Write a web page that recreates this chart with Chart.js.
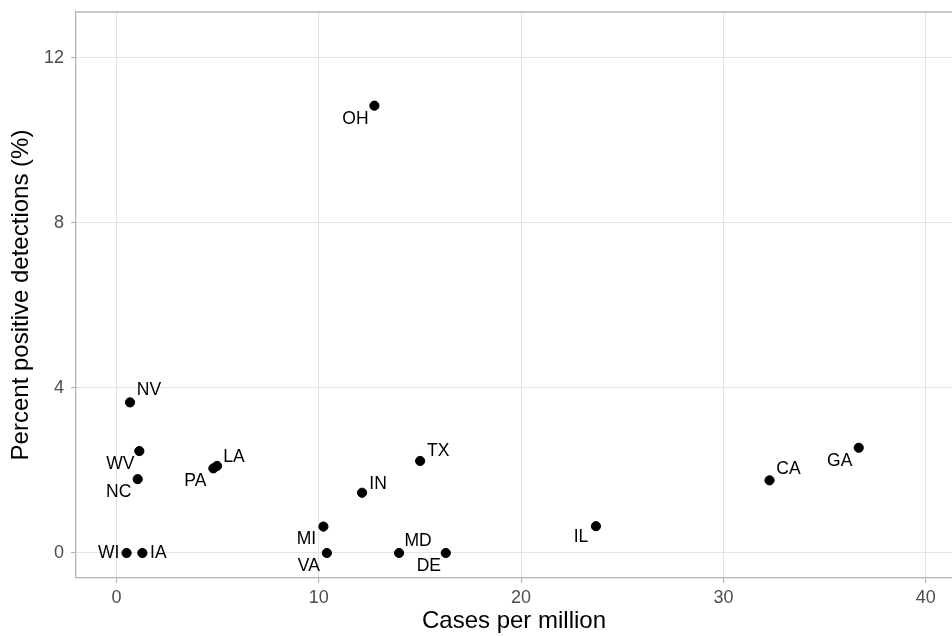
<!DOCTYPE html>
<html>
<head>
<meta charset="utf-8">
<script src="https://cdn.jsdelivr.net/npm/chart.js@4"></script>
<style>
  html, body { margin: 0; padding: 0; background: #fff; overflow: hidden; }
  canvas { display: block; }
</style>
</head>
<body>
<canvas id="chart" width="952" height="636"></canvas>
<script>
var states = ['OH', 'NV', 'WV', 'NC', 'PA', 'LA', 'WI', 'IA', 'MI', 'VA', 'MD', 'DE', 'IN', 'TX', 'IL', 'CA', 'GA'];
var casesPerMillion = [12.75, 0.67, 1.13, 1.05, 4.79, 4.97, 0.50, 1.28, 10.23, 10.40, 13.97, 16.28, 12.14, 15.01, 23.70, 32.28, 36.69];
var percentPositive = [10.84, 3.65, 2.47, 1.79, 2.05, 2.11, 0, 0, 0.64, 0, 0, 0, 1.46, 2.23, 0.65, 1.76, 2.55];
var xTicks = [0, 10, 20, 30, 40];
var yTicks = [0, 4, 8, 12];

// where each label sits relative to its dot (ggrepel-ish placement)
var labelPos = {
  OH: [-19, 13], NV: [19, -12], WV: [-19, 13], NC: [-19, 13], PA: [-18, 13],
  LA: [17, -9], WI: [-18, 0], IA: [16, 0], MI: [-17, 13], VA: [-18, 13],
  MD: [19, -12], DE: [-17, 13], IN: [16, -9], TX: [18, -10], IL: [-15, 11],
  CA: [19, -11], GA: [-19, 13]
};

var points = casesPerMillion.map(function (x, i) {
  return { x: x, y: percentPositive[i] };
});

var FONT = "'Liberation Sans', Arial, Helvetica, sans-serif";

var stateLabels = {
  id: 'stateLabels',
  afterDatasetsDraw: function (chart) {
    var ctx = chart.ctx;
    var meta = chart.getDatasetMeta(0);
    ctx.save();
    ctx.font = '17.5px ' + FONT;
    ctx.fillStyle = '#000';
    ctx.textAlign = 'center';
    ctx.textBaseline = 'middle';
    meta.data.forEach(function (pt, i) {
      var off = labelPos[states[i]] || [0, 0];
      ctx.fillText(states[i], pt.x + off[0], pt.y + off[1]);
    });
    ctx.restore();
  }
};

var panelTop = {
  id: 'panelTop',
  afterDraw: function (chart) {
    var a = chart.chartArea;
    var ctx = chart.ctx;
    ctx.save();
    ctx.strokeStyle = '#b3b3b3';
    ctx.lineWidth = 1.3;
    ctx.beginPath();
    ctx.moveTo(a.left, a.top);
    ctx.lineTo(a.right, a.top);
    ctx.stroke();
    ctx.restore();
  }
};

var config = {
  type: 'scatter',
  data: {
    datasets: [{
      data: points,
      backgroundColor: '#000',
      borderColor: '#000',
      pointRadius: 4.6,
      pointHoverRadius: 4.6
    }]
  },
  options: {
    responsive: false,
    animation: false,
    layout: { autoPadding: false, padding: { top: 12, right: 0, left: 0, bottom: 0 } },
    plugins: {
      legend: { display: false },
      tooltip: { enabled: false }
    },
    scales: {
      x: {
        type: 'linear',
        min: -2.0,
        max: 41.3,
        afterBuildTicks: function (scale) {
          scale.ticks = xTicks.map(function (v) { return { value: v }; });
        },
        afterFit: function (scale) {
          scale.height = 58;
          scale.paddingLeft = 0;
          scale.paddingRight = 0;
        },
        grid: { color: '#e3e3e3', lineWidth: 1.1, tickLength: 5, tickColor: '#b3b3b3' },
        border: { color: '#b3b3b3', width: 1.3 },
        ticks: { color: '#4d4d4d', font: { family: FONT, size: 18 }, padding: 4 },
        title: {
          display: true,
          text: 'Cases per million',
          color: '#000',
          font: { family: FONT, size: 24 },
          padding: { top: 0, bottom: 0 }
        }
      },
      y: {
        type: 'linear',
        min: -0.606,
        max: 13.11,
        afterBuildTicks: function (scale) {
          scale.ticks = yTicks.map(function (v) { return { value: v }; });
        },
        afterFit: function (scale) {
          scale.width = 76;
          scale.paddingTop = 0;
          scale.paddingBottom = 0;
        },
        grid: { color: '#e3e3e3', lineWidth: 1.1, tickLength: 5, tickColor: '#b3b3b3' },
        border: { color: '#b3b3b3', width: 1.3 },
        ticks: { color: '#4d4d4d', font: { family: FONT, size: 18 }, padding: 7 },
        title: {
          display: true,
          text: 'Percent positive detections (%)',
          color: '#000',
          font: { family: FONT, size: 24 },
          padding: { top: 7, bottom: 0 }
        }
      }
    }
  },
  plugins: [stateLabels, panelTop]
};

window.onload = function () {
  var ctx = document.getElementById('chart').getContext('2d');
  window.myChart = new Chart(ctx, config);
};
</script>
</body>
</html>
